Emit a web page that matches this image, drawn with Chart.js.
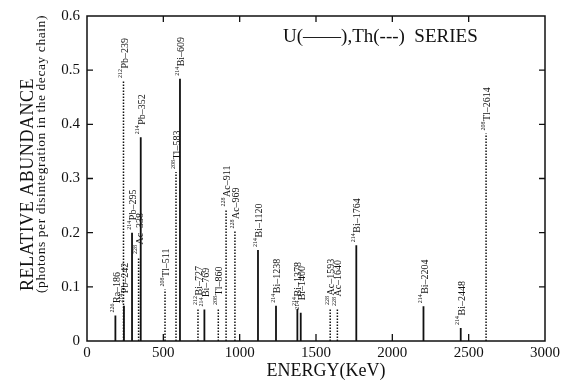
<!DOCTYPE html>
<html>
<head>
<meta charset="utf-8">
<script src="https://cdn.jsdelivr.net/npm/chart.js@4/dist/chart.umd.min.js"></script>
<style>
html, body { margin: 0; padding: 0; background: #fff; }
</style>
</head>
<body>
<canvas id="decayChart" width="569" height="381"></canvas>
<script>
// U series (solid lines) - energy in keV, abundance per disintegration
const uEnergy    = [186, 242, 295, 352, 609, 769, 1120, 1238, 1378, 1400, 1764, 2204, 2448];
const uAbundance = [0.047, 0.065, 0.200, 0.376, 0.484, 0.058, 0.168, 0.065, 0.059, 0.052, 0.177, 0.064, 0.024];
const uMass      = ['226', '214', '214', '214', '214', '214', '214', '214', '214', '214', '214', '214', '214'];
const uName      = ['Ra–186', 'Pb–242', 'Pb–295', 'Pb–352', 'Bi–609', 'Bi–769', 'Bi–1120', 'Bi–1238', 'Bi–1378', 'Bi–1400', 'Bi–1764', 'Bi–2204', 'Bi–2448'];

// Th series (dotted lines)
const thEnergy    = [239, 338, 511, 583, 727, 860, 911, 969, 1593, 1640, 2614];
const thAbundance = [0.480, 0.155, 0.095, 0.312, 0.061, 0.061, 0.243, 0.202, 0.061, 0.059, 0.383];
const thMass      = ['212', '228', '208', '208', '212', '208', '228', '228', '228', '228', '208'];
const thName      = ['Pb–239', 'Ac–338', 'Tl–511', 'Tl–583', 'Bi–727', 'Tl–860', 'Ac–911', 'Ac–969', 'Ac–1593', 'Ac–1640', 'Tl–2614'];

// axes
const xTicks = [0, 500, 1000, 1500, 2000, 2500, 3000];
const yTicks = [0, 0.1, 0.2, 0.3, 0.4, 0.5, 0.6];

const serif = '"Liberation Serif", "DejaVu Serif", serif';
const ink = '#111';

// each peak becomes a vertical segment from 0 to its value, separated by gaps
function toSegments(energy, abundance) {
    const pts = [];
    energy.forEach((e, i) => {
        pts.push({ x: e, y: 0 }, { x: e, y: abundance[i] }, { x: e, y: null });
    });
    return pts;
}

function drawPeakLabel(ctx, x, yTop, mass, name) {
    ctx.save();
    ctx.translate(x, yTop - 3);
    ctx.rotate(-Math.PI / 2);
    ctx.textAlign = 'left';
    ctx.textBaseline = 'middle';
    ctx.font = '6px ' + serif;
    ctx.fillText(mass, 0, -3);
    const w = ctx.measureText(mass).width;
    ctx.font = '10px ' + serif;
    ctx.fillText(name, w + 0.5, 1.5);
    ctx.restore();
}

// fit a text run to a target width with letter spacing
function fitText(ctx, text, x, y, width) {
    ctx.letterSpacing = '0px';
    const w = ctx.measureText(text).width;
    ctx.letterSpacing = ((width - w) / text.length).toFixed(2) + 'px';
    ctx.fillText(text, x, y);
    ctx.letterSpacing = '0px';
}

// frame, inward ticks, peak labels and titles
const decorations = {
    id: 'decorations',
    afterDraw(chart) {
        const { ctx, chartArea: a, scales: { x, y } } = chart;
        ctx.save();
        ctx.strokeStyle = ink;
        ctx.fillStyle = ink;

        ctx.lineWidth = 1.5;
        ctx.strokeRect(a.left, a.top, a.right - a.left, a.bottom - a.top);

        ctx.lineWidth = 1.3;
        ctx.beginPath();
        xTicks.slice(1, -1).forEach(v => {
            const px = x.getPixelForValue(v);
            ctx.moveTo(px, a.bottom); ctx.lineTo(px, a.bottom - 7);
            ctx.moveTo(px, a.top); ctx.lineTo(px, a.top + 6);
        });
        yTicks.slice(1, -1).forEach(v => {
            const py = y.getPixelForValue(v);
            ctx.moveTo(a.left, py); ctx.lineTo(a.left + 6, py);
            ctx.moveTo(a.right, py); ctx.lineTo(a.right - 6, py);
        });
        ctx.stroke();

        uEnergy.forEach((e, i) => drawPeakLabel(ctx, x.getPixelForValue(e), y.getPixelForValue(uAbundance[i]), uMass[i], uName[i]));
        thEnergy.forEach((e, i) => drawPeakLabel(ctx, x.getPixelForValue(e), y.getPixelForValue(thAbundance[i]), thMass[i], thName[i]));

        // series key
        ctx.font = '19px ' + serif;
        ctx.textAlign = 'left';
        ctx.textBaseline = 'alphabetic';
        ctx.fillText('U(——),Th(---)  SERIES', 283, 42);

        // axis titles
        ctx.font = '18px ' + serif;
        ctx.textAlign = 'center';
        ctx.fillText('ENERGY(KeV)', 326, 376);

        ctx.textAlign = 'left';
        ctx.save();
        ctx.translate(33, 291);
        ctx.rotate(-Math.PI / 2);
        ctx.font = '18px ' + serif;
        fitText(ctx, 'RELATIVE ABUNDANCE', 0, 0, 213);
        ctx.restore();

        ctx.save();
        ctx.translate(45, 293);
        ctx.rotate(-Math.PI / 2);
        ctx.font = '13.5px ' + serif;
        fitText(ctx, '(photons per disintegration in the decay chain)', 0, 0, 278);
        ctx.restore();

        ctx.restore();
    }
};

new Chart(document.getElementById('decayChart'), {
    type: 'line',
    data: {
        datasets: [{
            label: 'U series',
            data: toSegments(uEnergy, uAbundance),
            borderColor: ink,
            borderWidth: 1.8,
            pointRadius: 0,
            spanGaps: false
        }, {
            label: 'Th series',
            data: toSegments(thEnergy, thAbundance),
            borderColor: ink,
            borderWidth: 1.5,
            borderDash: [1.5, 1.5],
            pointRadius: 0,
            spanGaps: false
        }]
    },
    options: {
        responsive: false,
        animation: false,
        devicePixelRatio: 1,
        layout: { padding: { left: 0, right: 24, top: 15, bottom: 0 } },
        plugins: {
            legend: { display: false },
            tooltip: { enabled: false }
        },
        scales: {
            x: {
                type: 'linear',
                min: 0,
                max: 3000,
                afterBuildTicks: s => { s.ticks = xTicks.map(v => ({ value: v })); },
                afterFit: s => { s.height = 40; },
                grid: { display: false, drawTicks: false },
                border: { display: false },
                ticks: {
                    color: ink,
                    padding: 3,
                    font: { family: serif, size: 15 },
                    maxRotation: 0,
                    callback: v => String(v)
                }
            },
            y: {
                min: 0,
                max: 0.6,
                afterBuildTicks: s => { s.ticks = yTicks.map(v => ({ value: v })); },
                afterFit: s => { s.width = 87; },
                grid: { display: false, drawTicks: false },
                border: { display: false },
                ticks: {
                    color: ink,
                    padding: 7,
                    font: { family: serif, size: 15 },
                    callback: v => v === 0 ? '0' : v.toFixed(1)
                }
            }
        }
    },
    plugins: [decorations]
});
</script>
</body>
</html>
